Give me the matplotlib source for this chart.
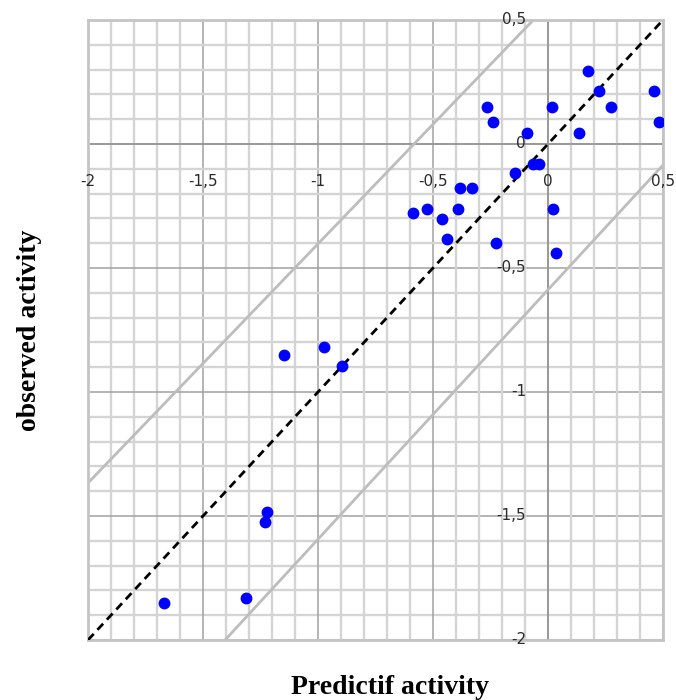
import matplotlib
matplotlib.use("Agg")
import matplotlib.pyplot as plt
import matplotlib.transforms as mtransforms
import numpy as np

# predicted vs observed activity
predicted = [0.175, 0.223, 0.461, 0.272, 0.484, 0.019, 0.135, -0.267, -0.241, -0.091,
             -0.067, -0.039, -0.143, -0.383, -0.332, -0.588, -0.527, -0.462, -0.390, -0.440,
             -0.228, 0.020, 0.033, -1.146, -0.975, -0.897, -1.223, -1.232, -1.314, -1.668]
observed = [0.296, 0.215, 0.215, 0.149, 0.089, 0.149, 0.043, 0.149, 0.089, 0.043,
            -0.081, -0.081, -0.118, -0.179, -0.179, -0.280, -0.262, -0.304, -0.262, -0.384,
            -0.400, -0.262, -0.441, -0.851, -0.820, -0.894, -1.485, -1.524, -1.829, -1.849]

# reference line and the two bound lines (endpoints)
ideal_x = [-2, 0.5]
ideal_y = [-2, 0.5]
upper_x = [-2, -0.064]
upper_y = [-1.367, 0.5]
lower_x = [-1.404, 0.5]
lower_y = [-2, -0.085]

x_ticks = [-2, -1.5, -1, -0.5, 0, 0.5]
y_ticks = [0.5, 0, -0.5, -1, -1.5, -2]


def fmt(v):
    s = ("%g" % v).replace(".", ",")
    return s


fig = plt.figure(figsize=(6.76, 7.0), dpi=100)
ax = fig.add_axes([88 / 676, 60 / 700, 575 / 676, 620 / 700])
ax.set_xlim(-2, 0.5)
ax.set_ylim(-2, 0.5)

# grid
for v in np.arange(-2, 0.51, 0.1):
    major = abs(v * 2 - round(v * 2)) < 1e-6
    col = "#a0a0a0" if major else "#d4d4d4"
    lw = 1.1 if major else 1.7
    ax.axvline(v, color=col, lw=lw, zorder=0)
    ax.axhline(v, color=col, lw=lw, zorder=0)
ax.axhline(0, color="#959595", lw=1.2, zorder=1)
ax.axvline(0, color="#959595", lw=1.2, zorder=1)

for sp in ax.spines.values():
    sp.set_color("#c4c4c4")
    sp.set_linewidth(2)
ax.set_xticks([])
ax.set_yticks([])

ax.plot(upper_x, upper_y, color="#bdbdbd", lw=2, zorder=2)
ax.plot(lower_x, lower_y, color="#bdbdbd", lw=2, zorder=2)
ax.plot(ideal_x, ideal_y, color="black", lw=2, ls=(0, (3, 2)), zorder=3)
ax.plot(predicted, observed, "o", color="#0000ff", ms=7.5, mec="#0000ff", zorder=4)

# tick labels next to the axes crossing at origin
xoff = mtransforms.offset_copy(ax.transData, fig=fig, x=0, y=-38, units="dots")
for v in x_ticks:
    ax.text(v, 0, fmt(v), transform=xoff, ha="center", va="center",
            fontsize=11, color="#2a2a2a", clip_on=False)
yoff = mtransforms.offset_copy(ax.transData, fig=fig, x=-22, y=0, units="dots")
for v in y_ticks:
    ax.text(0, v, fmt(v), transform=yoff, ha="right", va="center",
            fontsize=11, color="#2a2a2a", clip_on=False)

fig.text(30 / 676, 1 - 330 / 700, "observed activity", rotation=90, ha="center", va="center",
         family="Liberation Serif", fontweight="bold", fontsize=20)
fig.text(390 / 676, 1 - 687 / 700, "Predictif activity", ha="center", va="center",
         family="Liberation Serif", fontweight="bold", fontsize=20)

fig.savefig("out.png", dpi=100)
